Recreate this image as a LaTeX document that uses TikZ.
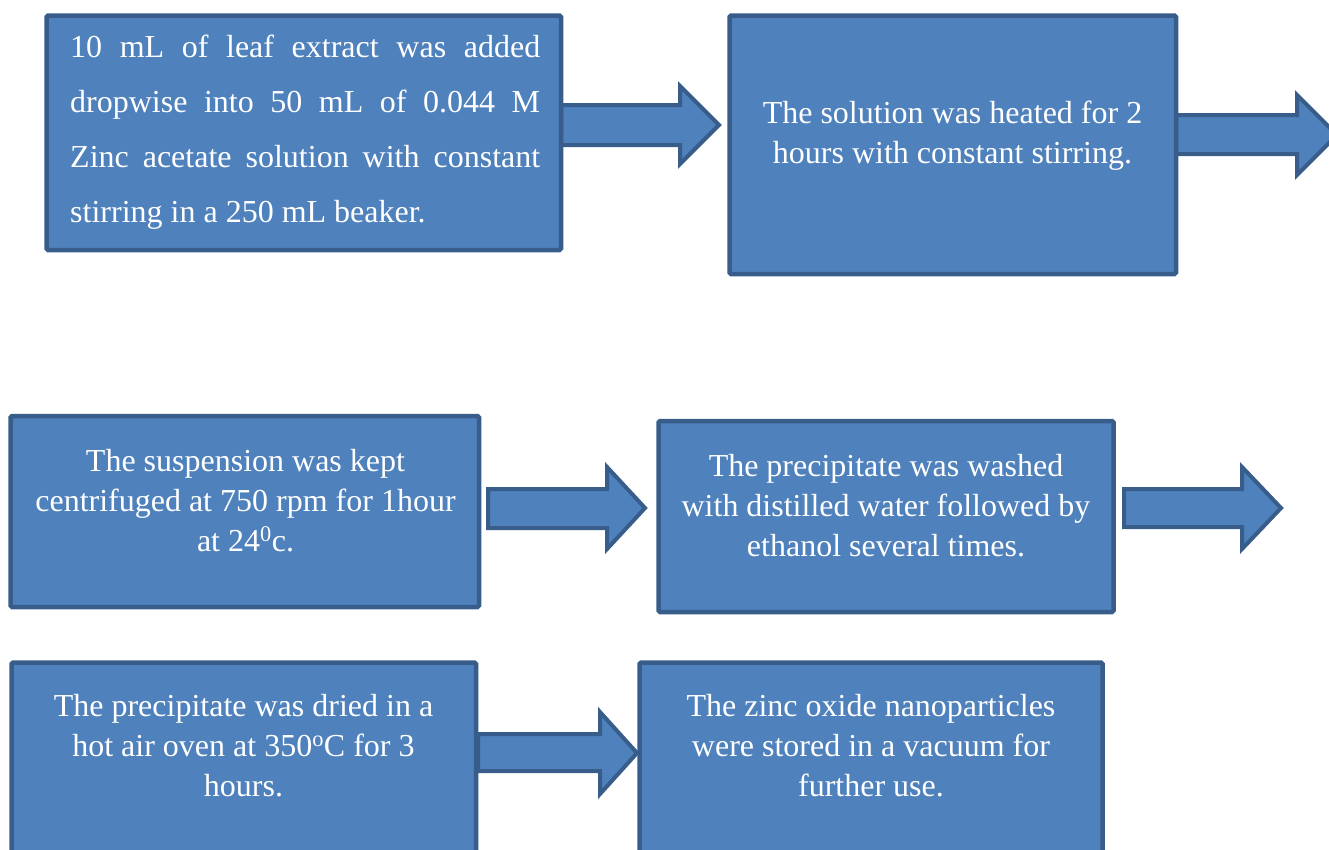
\documentclass[tikz,border=0pt]{standalone}
\usepackage{fontspec}
\setmainfont{Liberation Serif}
\definecolor{boxfill}{HTML}{4F81BD}
\definecolor{boxline}{HTML}{385D8A}
\tikzset{
  stepbox/.style={draw=boxline, fill=boxfill, line width=4.5pt, rounded corners=1.5pt, inner sep=0, outer sep=0, anchor=north west},
  blockarrow/.style={draw=boxline, fill=boxfill, line width=4pt, line join=miter},
  boxtext/.style={text=white, inner sep=0, anchor=base, align=center, font=\fontsize{32}{40}\selectfont},
}
\newcommand{\natsp}{\spaceskip=\fontdimen2\font\xspaceskip=\fontdimen2\font\relax}
\begin{document}
\begin{tikzpicture}[x=1pt,y=-1pt]
\useasboundingbox (0,0) rectangle (1329,849);
\clip (0,0) rectangle (1329,849);
% block arrows (drawn under the boxes)
\draw[blockarrow] (561,105)--(680,105)--(680,86)--(719,125)--(680,164)--(680,145)--(561,145)--cycle;
\draw[blockarrow] (1176,115)--(1297,115)--(1297,95)--(1337,135)--(1297,175)--(1297,154)--(1176,154)--cycle;
\draw[blockarrow] (488,489)--(607,489)--(607,467)--(645,508)--(607,549)--(607,528)--(488,528)--cycle;
\draw[blockarrow] (1124,489)--(1242,489)--(1242,467)--(1281,508)--(1242,549)--(1242,527)--(1124,527)--cycle;
\draw[blockarrow] (478,734)--(600,734)--(600,712)--(637,753)--(600,794)--(600,771)--(478,771)--cycle;
% boxes
\node[stepbox, minimum width=514.5pt, minimum height=234.5pt] (b1) at (46.5,15.5) {};
\node[stepbox, minimum width=446.5pt, minimum height=258.5pt] (b2) at (729.5,15.5) {};
\node[stepbox, minimum width=468.5pt, minimum height=191pt] (b3) at (10.5,416) {};
\node[stepbox, minimum width=455pt, minimum height=191pt] (b4) at (658.5,421) {};
\node[stepbox, minimum width=464.5pt, minimum height=200pt] (b5) at (11.5,662.5) {};
\node[stepbox, minimum width=463pt, minimum height=200pt] (b6) at (639.5,662.5) {};
% texts
\node[boxtext, anchor=base west, text width=470pt, align=justify, font=\fontsize{32}{55}\selectfont] (t1) at (70,57)
  {10 mL of leaf extract was added\linebreak dropwise into 50 mL of 0.044 M\linebreak Zinc acetate solution with constant\linebreak stirring in a 250 mL beaker.};
\node[boxtext, text width=440pt] (t2) at (952.5,123) {\natsp The solution was heated for 2\\hours with constant stirring.};
\node[boxtext, text width=460pt] (t3) at (245.5,471) {\natsp The suspension was kept\\centrifuged at 750 rpm for 1hour\\at 24\textsuperscript{0}c.};
\node[boxtext, text width=450pt] (t4) at (886,476) {\natsp The precipitate was washed\\with distilled water followed by\\ethanol several times.};
\node[boxtext, text width=455pt] (t5) at (243.5,716) {\natsp The precipitate was dried in a\\hot air oven at 350\textsuperscript{o}C for 3\\hours.};
\node[boxtext, text width=455pt] (t6) at (871,716) {\natsp The zinc oxide nanoparticles\\were stored in a vacuum for\\further use.};
\end{tikzpicture}
\end{document}
